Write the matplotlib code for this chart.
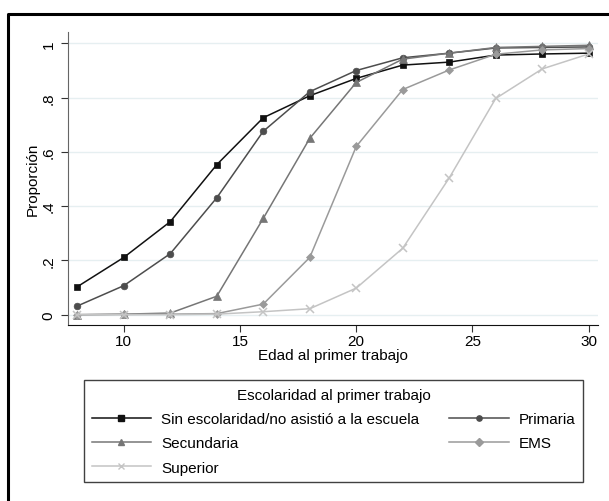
import matplotlib
matplotlib.use("Agg")
import matplotlib.pyplot as plt
from matplotlib.lines import Line2D
from matplotlib.ticker import FixedLocator, FuncFormatter

plt.rcParams['font.family'] = ['Liberation Sans', 'DejaVu Sans']

edad = [8, 10, 12, 14, 16, 18, 20, 22, 24, 26, 28, 30]
sin_esc = [0.103, 0.211, 0.343, 0.553, 0.726, 0.807, 0.871, 0.920, 0.931, 0.957, 0.961, 0.964]
primaria = [0.032, 0.107, 0.225, 0.431, 0.676, 0.822, 0.900, 0.947, 0.964, 0.983, 0.985, 0.987]
secundaria = [0.000, 0.002, 0.006, 0.068, 0.355, 0.650, 0.856, 0.942, 0.964, 0.985, 0.989, 0.993]
ems = [0.000, 0.001, 0.002, 0.004, 0.039, 0.211, 0.620, 0.830, 0.902, 0.960, 0.976, 0.981]
superior = [0.000, 0.000, 0.000, 0.002, 0.011, 0.022, 0.098, 0.245, 0.504, 0.797, 0.906, 0.961]

labels = ["Sin escolaridad/no asistió a la escuela", "Primaria", "Secundaria", "EMS", "Superior"]
yticks = [0, 0.2, 0.4, 0.6, 0.8, 1.0]
xticks = [10, 15, 20, 25, 30]

W, H = 609, 502
FS = 11
fig = plt.figure(figsize=(W / 100, H / 100), dpi=100)
ax = fig.add_axes([68 / W, 1 - 326 / H, 530 / W, 293 / H])

styles = [
    (sin_esc, '#111111', 's', 4.8),
    (primaria, '#4d4d4d', 'o', 4.8),
    (secundaria, '#767676', '^', 5.2),
    (ems, '#9a9a9a', 'D', 4.2),
    (superior, '#c4c4c4', 'x', 5.5),
]
handles = []
for (vals, col, mk, ms), lab in zip(styles, labels):
    ax.plot(edad, vals, color=col, marker=mk, markersize=ms, linewidth=1.1,
            markeredgewidth=1.1 if mk == 'x' else 0.5, markeredgecolor=col, zorder=3)
    handles.append(Line2D([], [], color=col, marker=mk, markersize=3.8 if mk != 'x' else 5,
                          linewidth=1.1, markeredgecolor=col, label=lab))

ax.set_xlim(7.6, 30.4)
ax.set_ylim(-0.038, 1.042)
ax.yaxis.set_major_locator(FixedLocator(yticks))
ax.xaxis.set_major_locator(FixedLocator(xticks))
ax.yaxis.set_major_formatter(FuncFormatter(lambda v, p: '0' if v == 0 else ('1' if v == 1 else ('%.1f' % v).lstrip('0'))))
ax.grid(axis='y', color='#e6eff1', linewidth=1.0, zorder=0)
ax.set_axisbelow(True)
for s in ['top', 'right']:
    ax.spines[s].set_visible(False)
ax.spines['left'].set_color('#666666')
ax.spines['bottom'].set_color('#111111')
ax.tick_params(axis='y', labelrotation=90, labelsize=FS, length=5, color='#333333', pad=4)
ax.tick_params(axis='x', labelsize=FS, length=5, color='#333333', pad=1.5)
for t in ax.get_yticklabels():
    t.set_verticalalignment('center')
ax.set_xlabel("Edad al primer trabajo", fontsize=FS, labelpad=0)
ax.set_ylabel("Proporción", fontsize=FS, labelpad=1)

order = [0, 2, 4, 1, 3]
leg = fig.legend([handles[i] for i in order], [labels[i] for i in order],
                 loc='upper left', bbox_to_anchor=(84 / W, 1 - 381 / H, 499 / W, 0.0),
                 mode='expand', ncol=2, title="Escolaridad al primer trabajo",
                 fontsize=FS, title_fontsize=FS, frameon=True, fancybox=False,
                 edgecolor='#111111', borderaxespad=0, handlelength=3.9,
                 handletextpad=0.65, labelspacing=0.68, borderpad=0.5)
leg.get_frame().set_linewidth(1.0)

# outer frame (cut off on right and bottom)
fig.add_artist(Line2D([8 / W, 8 / W, 1.01], [-0.01, 1 - 15 / H, 1 - 15 / H],
                      transform=fig.transFigure, color='black', linewidth=2.2))

fig.savefig("out.png", dpi=100)
